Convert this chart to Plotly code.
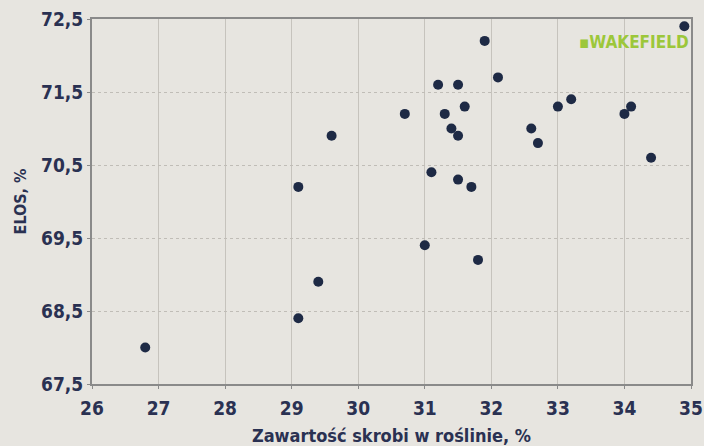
import plotly.graph_objects as go

starch = [26.8, 29.1, 29.4, 29.1, 29.6, 30.7, 31.0, 31.1, 31.2, 31.3, 31.4, 31.5, 31.5,
          31.6, 31.5, 31.7, 31.8, 31.9, 32.1, 32.6, 32.7, 33.0, 33.2, 34.0, 34.1, 34.4, 34.9]
elos = [68.0, 68.4, 68.9, 70.2, 70.9, 71.2, 69.4, 70.4, 71.6, 71.2, 71.0, 70.9, 71.6,
        71.3, 70.3, 70.2, 69.2, 72.2, 71.7, 71.0, 70.8, 71.3, 71.4, 71.2, 71.3, 70.6, 72.4]
x_ticks = [26, 27, 28, 29, 30, 31, 32, 33, 34, 35]
y_ticks = [67.5, 68.5, 69.5, 70.5, 71.5, 72.5]
y_labels = ["67,5", "68,5", "69,5", "70,5", "71,5", "72,5"]

FONT = "DejaVu Sans Condensed, Liberation Sans Narrow, sans-serif"
NAVY = "#2a3152"
BG = "#e7e5e0"

fig = go.Figure()
fig.add_trace(go.Scatter(
    x=starch, y=elos, mode="markers",
    marker=dict(size=10, color="#1e2a45", line=dict(width=0)),
    showlegend=False, cliponaxis=False,
))

fig.add_annotation(
    x=35, y=72.18, xref="x", yref="y", xanchor="right", yanchor="middle",
    text="<b>▪WAKEFIELD</b>", showarrow=False,
    font=dict(family=FONT, size=17, color="#9cc73a"),
)

fig.update_layout(
    width=704, height=446,
    margin=dict(l=92, r=13, t=19, b=62, autoexpand=False),
    paper_bgcolor=BG, plot_bgcolor=BG,
    font=dict(family=FONT, color=NAVY),
    xaxis=dict(
        range=[26, 35], tickvals=x_ticks, ticktext=["<b>%d</b>" % v for v in x_ticks],
        showgrid=True, gridcolor="#c6c3bd", gridwidth=1,
        showline=True, linecolor="#8a8a8a", linewidth=2, mirror=True,
        ticks="outside", ticklen=3, tickcolor="#8a8a8a",
        ticklabelstandoff=3,
        tickfont=dict(family=FONT, size=19, color=NAVY),
        title=dict(text="<b>Zawartość skrobi w roślinie, %</b>",
                   font=dict(family=FONT, size=18, color=NAVY), standoff=14),
        zeroline=False, automargin=False,
    ),
    yaxis=dict(
        range=[67.5, 72.5], tickvals=y_ticks, ticktext=["<b>%s</b>" % t for t in y_labels],
        showgrid=True, gridcolor="#c0bdb7", gridwidth=1, griddash="dot",
        showline=True, linecolor="#8a8a8a", linewidth=2, mirror=True,
        ticks="outside", ticklen=3, tickcolor="#8a8a8a",
        tickfont=dict(family=FONT, size=19, color=NAVY),
        title=dict(text="<b>ELOS, %</b>",
                   font=dict(family=FONT, size=16, color=NAVY), standoff=10),
        zeroline=False, automargin=False,
    ),
)

fig.write_html(
    "out.html",
    config={"displayModeBar": False},
    post_script="document.body.style.margin='0';document.body.style.background='%s';" % BG,
)
